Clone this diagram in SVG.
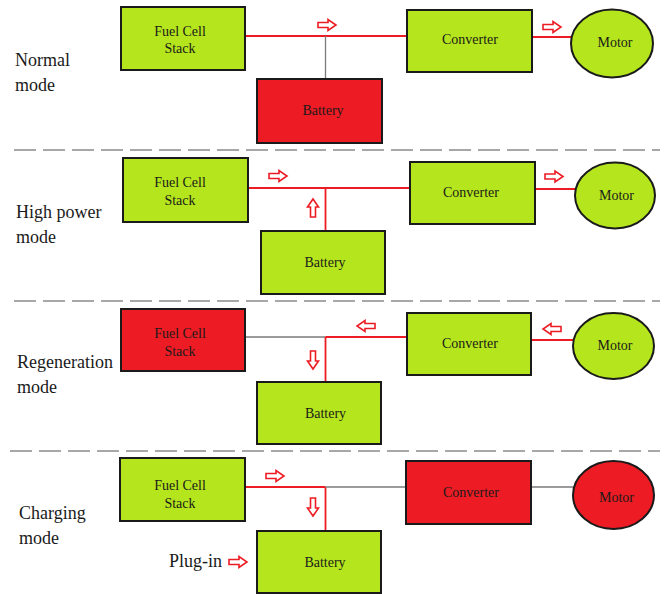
<svg xmlns="http://www.w3.org/2000/svg" xmlns:xlink="http://www.w3.org/1999/xlink" width="664" height="594" viewBox="0 0 664 594">
<style>
.g{fill:#b5e61d;stroke:#1a1a1a;stroke-width:2}
.r{fill:#ed1c24;stroke:#1a1a1a;stroke-width:2}
.t{font-family:"Liberation Serif","Times New Roman",serif;font-size:14px;fill:#1a1a1a;text-anchor:middle}
.m{font-family:"Liberation Serif","Times New Roman",serif;font-size:18px;fill:#1a1a1a}
.rl{stroke:#ed1c24;stroke-width:1.8;fill:none}
.gl{stroke:#7a7a7a;stroke-width:1.3;fill:none}
.d{stroke:#8a8a8a;stroke-width:1.3;stroke-dasharray:22 7;fill:none}
.ar{fill:#fff;stroke:#ed1c24;stroke-width:1.6}
</style>
<defs>
<path id="arr" class="ar" d="M-9,-2.5 H1 V-5.5 L9,0 L1,5.5 V2.5 H-9 Z"/>
</defs>
<rect width="664" height="594" fill="#fff"/>
<g id="separators">
<line class="d" x1="14" y1="150" x2="660" y2="150"/>
<line class="d" x1="14" y1="301" x2="660" y2="301"/>
<line class="d" x1="10" y1="451" x2="660" y2="451"/>
</g>
<g id="connectors">
<!-- normal -->
<line class="rl" x1="245" y1="36" x2="407" y2="36"/>
<line class="gl" x1="325.5" y1="36" x2="325.5" y2="79"/>
<line class="rl" x1="532" y1="37" x2="571" y2="37"/>
<use href="#arr" x="0" y="0" transform="translate(327,25)"/>
<use href="#arr" transform="translate(552,27)"/>
<!-- high power -->
<line class="rl" x1="248" y1="188" x2="410" y2="188"/>
<line class="rl" x1="325.5" y1="188" x2="325.5" y2="231"/>
<line class="rl" x1="535" y1="189" x2="576" y2="189"/>
<use href="#arr" transform="translate(278,176)"/>
<use href="#arr" transform="translate(313,208) rotate(-90)"/>
<use href="#arr" transform="translate(554,176.5)"/>
<!-- regeneration -->
<line class="gl" x1="245" y1="337" x2="325.5" y2="337"/>
<line class="rl" x1="325.5" y1="337" x2="407" y2="337"/>
<line class="rl" x1="325.5" y1="337" x2="325.5" y2="382"/>
<line class="rl" x1="531" y1="340" x2="573" y2="340"/>
<use href="#arr" transform="translate(366,326) rotate(180)"/>
<use href="#arr" transform="translate(313,360) rotate(90)"/>
<use href="#arr" transform="translate(552,329) rotate(180)"/>
<!-- charging -->
<line class="rl" x1="245" y1="487" x2="325.5" y2="487"/>
<line class="rl" x1="325.5" y1="487" x2="325.5" y2="531"/>
<line class="gl" x1="325.5" y1="487" x2="406" y2="487"/>
<line class="gl" x1="531" y1="487" x2="573" y2="487"/>
<use href="#arr" transform="translate(275,476)"/>
<use href="#arr" transform="translate(313,507) rotate(90)"/>
<use href="#arr" transform="translate(238,562)"/>
</g>
<g id="labels">
<text class="m" x="15" y="66">Normal</text>
<text class="m" x="15" y="91">mode</text>
<text class="m" x="16" y="218">High power</text>
<text class="m" x="16" y="243">mode</text>
<text class="m" x="17" y="368">Regeneration</text>
<text class="m" x="17" y="393">mode</text>
<text class="m" x="19" y="519">Charging</text>
<text class="m" x="19" y="544">mode</text>
</g>
<g id="plugin">
<text class="m" x="169" y="567">Plug-in</text>
</g>
<!-- Normal mode nodes -->
<g id="fcs1"><rect class="g" x="121" y="7" width="124" height="63"/><text class="t" x="180" y="35.5">Fuel Cell</text><text class="t" x="180" y="53">Stack</text></g>
<g id="conv1"><rect class="g" x="407" y="10" width="125" height="62"/><text class="t" x="470" y="44">Converter</text></g>
<g id="motor1"><ellipse class="g" cx="612" cy="43.5" rx="41" ry="34"/><text class="t" x="615" y="47">Motor</text></g>
<g id="bat1"><rect class="r" x="257" y="79" width="125" height="64"/><text class="t" x="323" y="115">Battery</text></g>
<!-- High power nodes -->
<g id="fcs2"><rect class="g" x="123" y="158" width="125" height="64"/><text class="t" x="180" y="187">Fuel Cell</text><text class="t" x="180" y="204.5">Stack</text></g>
<g id="conv2"><rect class="g" x="410" y="162" width="125" height="62"/><text class="t" x="471" y="197">Converter</text></g>
<g id="motor2"><ellipse class="g" cx="615" cy="195.5" rx="40" ry="33"/><text class="t" x="616.5" y="200">Motor</text></g>
<g id="bat2"><rect class="g" x="261" y="231" width="124" height="63"/><text class="t" x="325" y="267">Battery</text></g>
<!-- Regeneration nodes -->
<g id="fcs3"><rect class="r" x="121" y="309" width="124" height="62"/><text class="t" x="180" y="338">Fuel Cell</text><text class="t" x="180" y="356">Stack</text></g>
<g id="conv3"><rect class="g" x="407" y="313" width="124" height="62"/><text class="t" x="470" y="347.5">Converter</text></g>
<g id="motor3"><ellipse class="g" cx="613.5" cy="346" rx="40.5" ry="33"/><text class="t" x="615" y="350">Motor</text></g>
<g id="bat3"><rect class="g" x="257" y="382" width="124" height="62"/><text class="t" x="325.5" y="417.5">Battery</text></g>
<!-- Charging nodes -->
<g id="fcs4"><rect class="g" x="120" y="458" width="125" height="63"/><text class="t" x="180" y="489.5">Fuel Cell</text><text class="t" x="180" y="507.5">Stack</text></g>
<g id="conv4"><rect class="r" x="406" y="461" width="125" height="63"/><text class="t" x="471" y="497">Converter</text></g>
<g id="motor4"><ellipse class="r" cx="613.5" cy="495" rx="40.5" ry="34"/><text class="t" x="616.5" y="502">Motor</text></g>
<g id="bat4"><rect class="g" x="257" y="531" width="124" height="62"/><text class="t" x="325" y="567">Battery</text></g>
</svg>
